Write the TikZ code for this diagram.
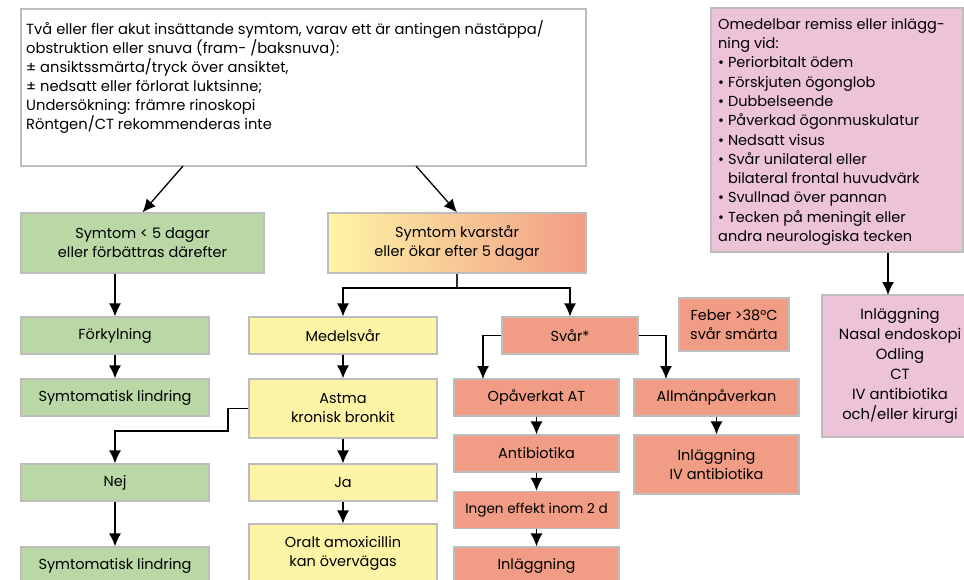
\documentclass[tikz,border=0pt]{standalone}
\usepackage{fontspec}
\setmainfont{Poppins}
\usetikzlibrary{arrows.meta}
\definecolor{boxline}{HTML}{BDBDBD}
\definecolor{gfill}{HTML}{B9D8A5}
\definecolor{yfill}{HTML}{FEF4A6}
\definecolor{sfill}{HTML}{F19D85}
\definecolor{pfill}{HTML}{ECC3D7}
\definecolor{linegray}{HTML}{2E2E2E}
\begin{document}
\begin{tikzpicture}[x=1pt,y=-1pt,
  base/.style={draw=boxline, line width=1.2pt, inner sep=0pt, align=center,
    font=\fontsize{14.5}{19}\selectfont},
  gbox/.style={base, fill=gfill},
  ybox/.style={base, fill=yfill},
  sbox/.style={base, fill=sfill},
  pbox/.style={base, fill=pfill},
  wbox/.style={base, fill=white},
  txt/.style={anchor=north west, inner sep=0pt, align=left},
  arr/.style={-{Latex[length=13pt,width=12pt]}, line width=1.3pt, black},
  ln/.style={line width=1.4pt, linegray}]
\useasboundingbox (0,0) rectangle (964,579);
\clip (0,0) rectangle (964,579);
\fill[white] (0,0) rectangle (964,579);

% top description box
\node[wbox, minimum width=565pt, minimum height=157pt] (top) at (303.5,87.5) {};
\node[txt, font=\fontsize{14.7}{19}\selectfont] (toptext) at (26,20) {%
Två eller fler akut insättande symtom, varav ett är antingen nästäppa/\\
obstruktion eller snuva (fram- /baksnuva):\\
± ansiktssmärta/tryck över ansiktet,\\
± nedsatt eller förlorat luktsinne;\\
Undersökning: främre rinoskopi\\
Röntgen/CT rekommenderas inte};

% referral box
\node[pbox, minimum width=252pt, minimum height=244pt] (p1) at (837,130) {};
\node[txt, font=\fontsize{14.5}{19.3}\selectfont] (p1text) at (718,18) {%
Omedelbar remiss eller inlägg-\\
ning vid:\\
• Periorbitalt ödem\\
• Förskjuten ögonglob\\
• Dubbelseende\\
• Påverkad ögonmuskulatur\\
• Nedsatt visus\\
• Svår unilateral eller\\
\phantom{• }bilateral frontal huvudvärk\\
• Svullnad över pannan\\
• Tecken på meningit eller\\
andra neurologiska tecken};
\node[pbox, minimum width=156pt, minimum height=142pt,
  font=\fontsize{14.8}{20}\selectfont] (p2) at (900,366)
  {Inläggning\\Nasal endoskopi\\Odling\\CT\\IV antibiotika\\och/eller kirurgi};

% green column
\node[gbox, minimum width=243pt, minimum height=60pt] (g1) at (142.5,243)
  {Symtom < 5 dagar\\eller förbättras därefter};
\node[gbox, minimum width=188pt, minimum height=37pt] (fork) at (115,335.5) {Förkylning};
\node[gbox, minimum width=188pt, minimum height=37pt] (sl1) at (115,397.5) {Symtomatisk lindring};
\node[gbox, minimum width=188pt, minimum height=37pt] (nej) at (115,482.5) {Nej};
\node[gbox, minimum width=188pt, minimum height=37pt] (sl2) at (115,565.5) {Symtomatisk lindring};

% persisting symptoms
\node[base, left color=yfill, right color=sfill, minimum width=258pt, minimum height=60pt] (kv) at (457,243)
  {Symtom kvarstår\\eller ökar efter 5 dagar};

% yellow column
\node[ybox, minimum width=188pt, minimum height=37pt] (med) at (343,335.5) {Medelsvår};
\node[ybox, minimum width=188pt, minimum height=59pt] (astma) at (343,408.5) {Astma\\kronisk bronkit};
\node[ybox, minimum width=188pt, minimum height=37pt] (ja) at (343,482.5) {Ja};
\node[ybox, minimum width=188pt, minimum height=59pt] (oralt) at (343,553.5) {Oralt amoxicillin\\kan övervägas};

% salmon column
\node[sbox, minimum width=136pt, minimum height=37pt] (svar) at (570,335.5) {Svår*};
\node[sbox, minimum width=110pt, minimum height=53pt] (feber) at (734,324.5) {Feber >38°C\\svår smärta};
\node[sbox, minimum width=165pt, minimum height=37pt] (opa) at (536.5,397.5) {Opåverkat AT};
\node[sbox, minimum width=165pt, minimum height=37pt] (anti) at (536.5,453.5) {Antibiotika};
\node[sbox, minimum width=165pt, minimum height=37pt, font=\fontsize{13.6}{19}\selectfont] (ingen) at (536.5,510) {Ingen effekt inom 2 d};
\node[sbox, minimum width=165pt, minimum height=37pt] (inl) at (536.5,565.5) {Inläggning};
\node[sbox, minimum width=165pt, minimum height=37pt] (allm) at (716.5,397.5) {Allmänpåverkan};
\node[sbox, minimum width=165pt, minimum height=59pt] (inliv) at (716.5,464.5) {Inläggning\\IV antibiotika};

% connector end points
\coordinate (tl) at (183,166);
\coordinate (tr) at (416,166);
\coordinate (split) at (457,288);
\coordinate (bendA) at (228,431);
\coordinate (opaIn) at (483,379);
\coordinate (allmIn) at (666,379);
\coordinate (p2In) at (888,295);

% connectors
\draw[arr] (tl) -- (g1.north);
\draw[arr] (tr) -- (kv.north);
\draw[arr] (g1.south -| fork.north) -- (fork.north);
\draw[arr] (fork) -- (sl1);
\draw[arr] (nej) -- (sl2);
\draw[ln] (kv.south) -- (split);
\draw[ln, arr] (split) -| (med.north);
\draw[ln, arr] (split) -| (svar.north);
\draw[arr] (med) -- (astma);
\draw[arr] (astma) -- (ja);
\draw[arr] (ja) -- (oralt);
\draw[arr] (astma.west) -| (bendA) -| (nej.north);
\draw[arr] (svar.west) -| (opaIn);
\draw[arr] (svar.east) -| (allmIn);
\draw[arr] (opa) -- (anti);
\draw[arr] (anti) -- (ingen);
\draw[arr] (ingen) -- (inl);
\draw[arr] (allm) -- (inliv);
\draw[arr] (p1.south -| p2In) -- (p2In);
\end{tikzpicture}
\end{document}
